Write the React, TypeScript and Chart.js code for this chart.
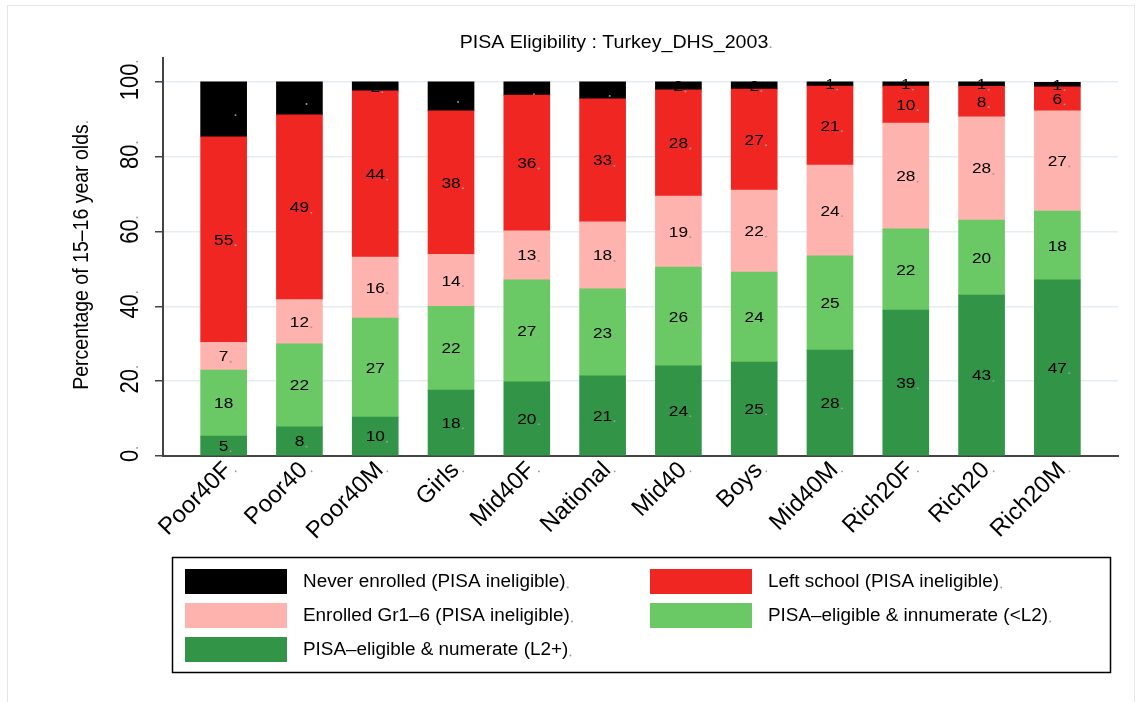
import React, { useEffect, useRef } from 'react';
import { Chart, registerables } from 'chart.js';

Chart.register(...registerables);

const categories = ['Poor40F', 'Poor40', 'Poor40M', 'Girls', 'Mid40F', 'National', 'Mid40', 'Boys', 'Mid40M', 'Rich20F', 'Rich20', 'Rich20M'];
const numerate = [5.3, 7.8, 10.4, 17.6, 19.8, 21.4, 24.1, 25.1, 28.3, 39.0, 43.0, 47.1];
const innumerate = [17.7, 22.2, 26.5, 22.4, 27.3, 23.3, 26.4, 24.1, 25.2, 21.7, 20.1, 18.4];
const enrolledGr16 = [7.4, 11.8, 16.3, 13.9, 13.1, 17.9, 19.0, 21.9, 24.3, 28.3, 27.6, 26.8];
const leftSchool = [54.9, 49.4, 44.4, 38.4, 36.3, 32.9, 28.4, 27.0, 21.1, 9.9, 8.1, 6.4];
const neverEnrolled = [14.7, 8.8, 2.4, 7.7, 3.5, 4.5, 2.1, 1.9, 1.1, 1.1, 1.2, 1.2];
const yTicks = [0, 20, 40, 60, 80, 100];

const seriesLabels = [
  'PISA\u2013eligible & numerate (L2+)',
  'PISA\u2013eligible & innumerate (<L2)',
  'Enrolled Gr1\u20136 (PISA ineligible)',
  'Left school (PISA ineligible)',
  'Never enrolled (PISA ineligible)',
];
const seriesColors = ['#319447', '#6ac865', '#ffb3ae', '#ef2622', '#000000'];
const titleText = 'PISA Eligibility : Turkey_DHS_2003';
const yTitleText = 'Percentage of 15\u201316 year olds';

const FONT = '"Liberation Sans", Arial, Helvetica, sans-serif';

type TOpts = { align?: CanvasTextAlign; baseline?: CanvasTextBaseline; rot?: number; sx?: number; dot?: boolean; color?: string };

function drawText(ctx: CanvasRenderingContext2D, text: string, x: number, y: number, size: number, o: TOpts = {}) {
  const align = o.align ?? 'center';
  const baseline = o.baseline ?? 'alphabetic';
  ctx.save();
  ctx.translate(x, y);
  ctx.scale(o.sx ?? 1, 1);
  ctx.rotate(o.rot ?? 0);
  ctx.font = `${size}px ${FONT}`;
  ctx.textAlign = align;
  ctx.textBaseline = baseline;
  ctx.fillStyle = o.color ?? '#000';
  ctx.fillText(text, 0, 0);
  if (o.dot !== false) {
    const w = ctx.measureText(text).width;
    let dx = 0;
    if (align === 'center') dx = w / 2 + 2;
    else if (align === 'right' || align === 'end') dx = 2;
    else dx = w + 2;
    let dy = 0;
    if (baseline === 'middle') dy = size * 0.36;
    else if (baseline === 'top') dy = size * 0.9;
    ctx.fillStyle = '#9a9a9a';
    ctx.beginPath();
    ctx.arc(dx, dy - 0.8, 0.9, 0, Math.PI * 2);
    ctx.fill();
  }
  ctx.restore();
}

const decorPlugin = {
  id: 'decor',
  beforeDraw(chart: any) {
    const ctx = chart.ctx as CanvasRenderingContext2D;
    ctx.save();
    ctx.fillStyle = '#ffffff';
    ctx.fillRect(0, 0, chart.width, chart.height);
    ctx.strokeStyle = '#e6e6e6';
    ctx.lineWidth = 1;
    ctx.strokeRect(7.5, 5.5, 1127, 700);
    ctx.restore();
  },
  afterDatasetsDraw(chart: any) {
    const ctx = chart.ctx as CanvasRenderingContext2D;
    chart.data.datasets.forEach((ds: any, d: number) => {
      const meta = chart.getDatasetMeta(d);
      meta.data.forEach((el: any, i: number) => {
        const p = el.getProps(['x', 'y', 'base'], true);
        const v = ds.data[i].y;
        drawText(ctx, String(Math.round(v)), p.x, (p.y + p.base) / 2 + 1, 15, { baseline: 'middle', sx: 1.15 });
      });
    });
  },
  afterDraw(chart: any) {
    const ctx = chart.ctx as CanvasRenderingContext2D;
    const ys = chart.scales.y;
    const xs = chart.scales.x;
    const area = chart.chartArea;
    // title
    drawText(ctx, titleText, 614, 48, 17.5, { sx: 1.12 });
    // y tick labels
    yTicks.forEach((v) => {
      drawText(ctx, String(v), 138, ys.getPixelForValue(v), 22, { rot: -Math.PI / 2, sx: 1.15 });
    });
    // y title
    drawText(ctx, yTitleText, 88, (area.top + area.bottom) / 2, 19.5, { rot: -Math.PI / 2, sx: 1.1 });
    // x labels
    categories.forEach((c, i) => {
      const x = xs.getPixelForValue(i);
      drawText(ctx, c, x - 4, 458, 24, { rot: -Math.PI / 4, sx: 1.0, align: 'right', baseline: 'top' });
    });
    // legend
    ctx.save();
    ctx.strokeStyle = '#000';
    ctx.lineWidth = 1.5;
    ctx.strokeRect(172.5, 557.5, 938, 115);
    ctx.restore();
    const order = [4, 3, 2, 1, 0];
    order.forEach((d, k) => {
      const row = Math.floor(k / 2);
      const col = k % 2;
      const sx = col === 0 ? 185 : 650;
      const sy = 569 + row * 34;
      ctx.save();
      ctx.fillStyle = chart.data.datasets[d].backgroundColor;
      ctx.fillRect(sx, sy, 102, 25);
      ctx.restore();
      drawText(ctx, chart.data.datasets[d].label, sx + 118, sy + 13, 17.5, { baseline: 'middle', sx: 1.08, align: 'left' });
    });
  },
};

export default function App() {
  const ref = useRef<HTMLCanvasElement | null>(null);
  useEffect(() => {
    if (!ref.current) return;
    const series = [numerate, innumerate, enrolledGr16, leftSchool, neverEnrolled];
    const chart = new Chart(ref.current, {
      type: 'bar',
      data: {
        datasets: series.map((vals, d) => ({
          label: seriesLabels[d],
          data: vals.map((v, i) => ({ x: i, y: v })),
          backgroundColor: seriesColors[d],
          borderWidth: 0,
          barThickness: 46,
        })),
      },
      options: {
        responsive: false,
        animation: false,
        layout: { padding: { left: 0, top: 58, right: 24, bottom: 0 } },
        plugins: { legend: { display: false }, tooltip: { enabled: false }, title: { display: false } },
        scales: {
          x: {
            type: 'linear',
            stacked: true,
            offset: false,
            min: -0.8,
            max: 11.8,
            ticks: { display: false },
            grid: { display: false, drawTicks: false, offset: false },
            border: { display: true, color: '#444', width: 2 },
            afterFit: (s: any) => { s.height = 246; },
          },
          y: {
            type: 'linear',
            stacked: true,
            min: 0,
            max: 106.4,
            ticks: { display: false },
            afterBuildTicks: (s: any) => { s.ticks = yTicks.map((v) => ({ value: v })); },
            grid: { color: '#e6edf2', lineWidth: 1.5, tickColor: '#444', tickLength: 8, tickWidth: 1.5 },
            border: { display: true, color: '#444', width: 2 },
            afterFit: (s: any) => { s.width = 163; },
          },
        },
      },
      plugins: [decorPlugin],
    } as any);
    return () => chart.destroy();
  }, []);
  return (
    <div style={{ position: 'absolute', left: 0, top: 0, width: 1142, height: 702 }}>
      <canvas ref={ref} width={1142} height={702} />
    </div>
  );
}
